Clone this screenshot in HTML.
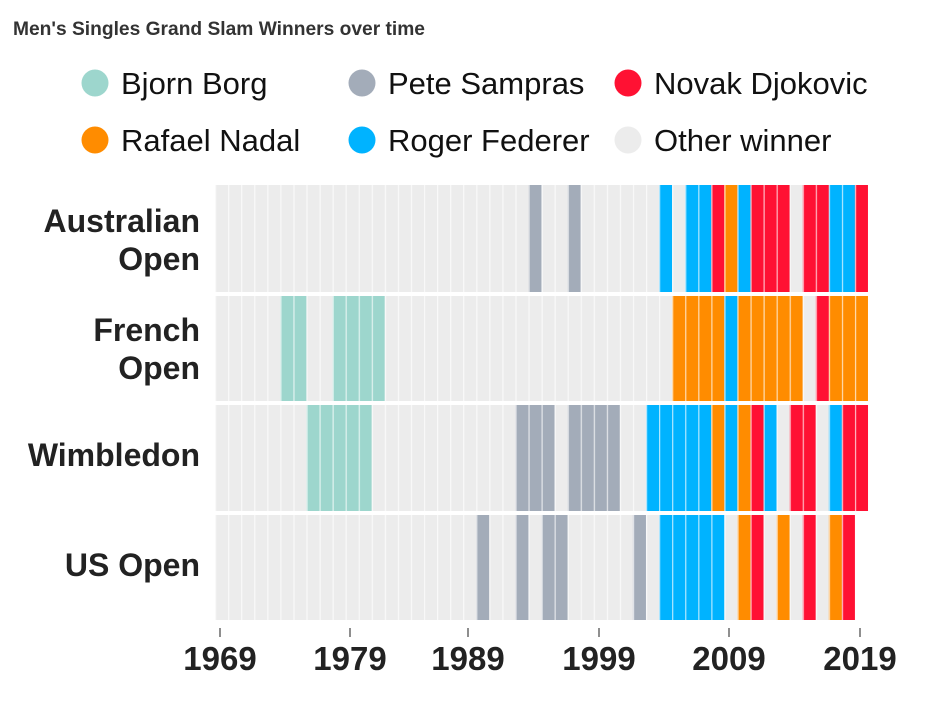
<!DOCTYPE html>
<html><head><meta charset="utf-8"><style>
html,body{margin:0;padding:0;background:#fff;}
svg{display:block;font-family:"Liberation Sans",sans-serif;}
</style></head><body>
<svg width="936" height="708" viewBox="0 0 936 708" xmlns="http://www.w3.org/2000/svg">
<defs>
<pattern id="sep" patternUnits="userSpaceOnUse" x="215" y="0" width="13.06" height="708">
<rect x="0" y="0" width="1.2" height="708" fill="#fff" fill-opacity="0.7"/>
</pattern>
</defs>
<text x="13" y="35" font-size="19.5" font-weight="bold" fill="#333" textLength="412" lengthAdjust="spacingAndGlyphs">Men's Singles Grand Slam Winners over time</text>
<g font-size="31" fill="#111">
<circle cx="95" cy="83" r="13.5" fill="#9dd6cd"/><text x="121" y="94">Bjorn Borg</text>
<circle cx="362" cy="83" r="13.5" fill="#a3acb9"/><text x="388" y="94">Pete Sampras</text>
<circle cx="628" cy="83" r="13.5" fill="#ff1133"/><text x="654" y="94">Novak Djokovic</text>
<circle cx="95" cy="140" r="13.5" fill="#ff8c00"/><text x="121" y="151">Rafael Nadal</text>
<circle cx="362" cy="140" r="13.5" fill="#00b3ff"/><text x="388" y="151">Roger Federer</text>
<circle cx="628" cy="140" r="13.5" fill="#ececec"/><text x="654" y="151">Other winner</text>
</g>
<g font-size="32" font-weight="bold" fill="#222" text-anchor="end">
<text x="200" y="232">Australian</text><text x="200" y="270">Open</text>
<text x="200" y="341">French</text><text x="200" y="379">Open</text>
<text x="200" y="466">Wimbledon</text>
<text x="200" y="576">US Open</text>
</g>
<rect x="215" y="185" width="653" height="107" fill="#ececec"/>
<rect x="215" y="296" width="653" height="105" fill="#ececec"/>
<rect x="215" y="405" width="653" height="106" fill="#ececec"/>
<rect x="215" y="515" width="640" height="105" fill="#ececec"/>
<g transform="translate(0,185)">
<rect x="528.4" width="13.06" height="107" fill="#a3acb9"/>
<rect x="567.6" width="13.06" height="107" fill="#a3acb9"/>
<rect x="659.0" width="13.06" height="107" fill="#00b3ff"/>
<rect x="685.2" width="26.12" height="107" fill="#00b3ff"/>
<rect x="737.4" width="13.06" height="107" fill="#00b3ff"/>
<rect x="828.8" width="26.12" height="107" fill="#00b3ff"/>
<rect x="711.3" width="13.06" height="107" fill="#ff1133"/>
<rect x="750.5" width="39.18" height="107" fill="#ff1133"/>
<rect x="802.7" width="26.12" height="107" fill="#ff1133"/>
<rect x="854.9" width="13.06" height="107" fill="#ff1133"/>
<rect x="724.3" width="13.06" height="107" fill="#ff8c00"/>
</g>
<g transform="translate(0,296)">
<rect x="280.3" width="26.12" height="105" fill="#9dd6cd"/>
<rect x="332.5" width="52.24" height="105" fill="#9dd6cd"/>
<rect x="672.1" width="52.24" height="105" fill="#ff8c00"/>
<rect x="737.4" width="65.3" height="105" fill="#ff8c00"/>
<rect x="828.8" width="39.18" height="105" fill="#ff8c00"/>
<rect x="724.3" width="13.06" height="105" fill="#00b3ff"/>
<rect x="815.8" width="13.06" height="105" fill="#ff1133"/>
</g>
<g transform="translate(0,405)">
<rect x="306.4" width="65.3" height="106" fill="#9dd6cd"/>
<rect x="515.4" width="39.18" height="106" fill="#a3acb9"/>
<rect x="567.6" width="52.24" height="106" fill="#a3acb9"/>
<rect x="646.0" width="65.3" height="106" fill="#00b3ff"/>
<rect x="724.3" width="13.06" height="106" fill="#00b3ff"/>
<rect x="763.5" width="13.06" height="106" fill="#00b3ff"/>
<rect x="828.8" width="13.06" height="106" fill="#00b3ff"/>
<rect x="711.3" width="13.06" height="106" fill="#ff8c00"/>
<rect x="737.4" width="13.06" height="106" fill="#ff8c00"/>
<rect x="750.5" width="13.06" height="106" fill="#ff1133"/>
<rect x="789.6" width="26.12" height="106" fill="#ff1133"/>
<rect x="841.9" width="26.12" height="106" fill="#ff1133"/>
</g>
<g transform="translate(0,515)">
<rect x="476.2" width="13.06" height="105" fill="#a3acb9"/>
<rect x="515.4" width="13.06" height="105" fill="#a3acb9"/>
<rect x="541.5" width="26.12" height="105" fill="#a3acb9"/>
<rect x="632.9" width="13.06" height="105" fill="#a3acb9"/>
<rect x="659.0" width="65.3" height="105" fill="#00b3ff"/>
<rect x="737.4" width="13.06" height="105" fill="#ff8c00"/>
<rect x="776.6" width="13.06" height="105" fill="#ff8c00"/>
<rect x="828.8" width="13.06" height="105" fill="#ff8c00"/>
<rect x="750.5" width="13.06" height="105" fill="#ff1133"/>
<rect x="802.7" width="13.06" height="105" fill="#ff1133"/>
<rect x="841.9" width="13.06" height="105" fill="#ff1133"/>
</g>
<rect x="215" y="185" width="653" height="107" fill="url(#sep)"/>
<rect x="215" y="296" width="653" height="105" fill="url(#sep)"/>
<rect x="215" y="405" width="653" height="106" fill="url(#sep)"/>
<rect x="215" y="515" width="640" height="105" fill="url(#sep)"/>
<g stroke="#444" stroke-width="1.2">
<line x1="220" y1="628" x2="220" y2="637"/>
<line x1="350" y1="628" x2="350" y2="637"/>
<line x1="468" y1="628" x2="468" y2="637"/>
<line x1="599" y1="628" x2="599" y2="637"/>
<line x1="729" y1="628" x2="729" y2="637"/>
<line x1="860" y1="628" x2="860" y2="637"/>
</g>
<g font-size="33" font-weight="bold" fill="#222" text-anchor="middle">
<text x="220" y="670">1969</text>
<text x="350" y="670">1979</text>
<text x="468" y="670">1989</text>
<text x="599" y="670">1999</text>
<text x="729" y="670">2009</text>
<text x="860" y="670">2019</text>
</g>
</svg>
</body></html>
